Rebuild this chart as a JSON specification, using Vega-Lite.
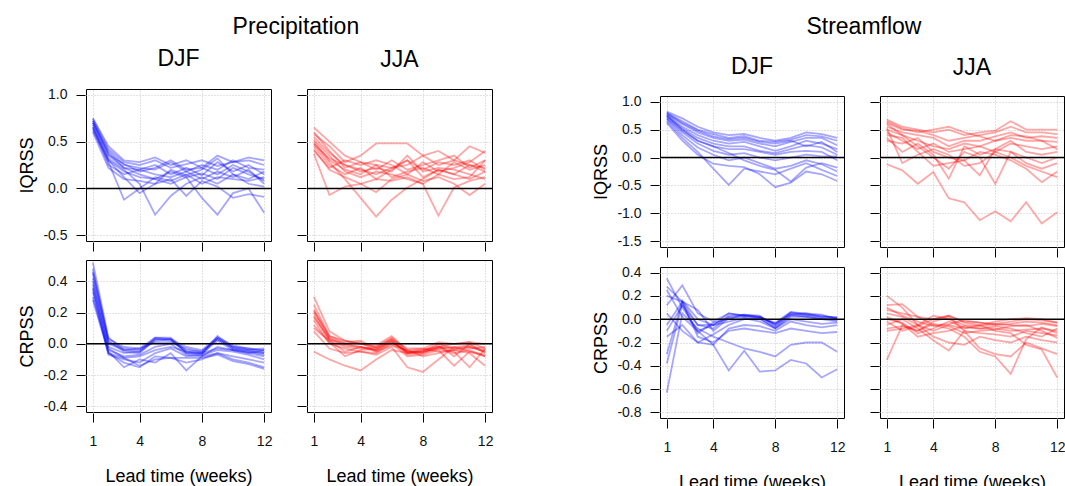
{
"$schema":"https://vega.github.io/schema/vega-lite/v6.json",
"padding":{"left":18,"top":16,"right":5,"bottom":0},
"background":"white",
"config":{
"view":{"stroke":"#000","strokeWidth":1},
"axis":{"domain":false,"ticks":true,"tickColor":"#000","tickSize":9,"tickWidth":1,"offset":1,"grid":true,"gridColor":"#c4c4c4","gridDash":[1,2],"gridWidth":1,"labelFont":"Liberation Sans","labelFontSize":14,"labelColor":"#111","labelPadding":9,"labelFlush":false,"labelOverlap":false,"titleFont":"Liberation Sans","titleFontSize":18,"titleFontWeight":"normal","titleColor":"#000","titlePadding":6},
"axisX":{"labelPadding":12,"titlePadding":19},
"title":{"font":"Liberation Sans","fontSize":23,"fontWeight":"normal","color":"#000","anchor":"middle"}
},
"datasets":{
"PDI":[
{"k":1,"w":1,"y":0.75},{"k":1,"w":2,"y":0.45},{"k":1,"w":3,"y":0.3},{"k":1,"w":4,"y":0.28},{"k":1,"w":5,"y":0.33},{"k":1,"w":6,"y":0.25},{"k":1,"w":7,"y":0.3},{"k":1,"w":8,"y":0.22},{"k":1,"w":9,"y":0.35},{"k":1,"w":10,"y":0.28},{"k":1,"w":11,"y":0.33},{"k":1,"w":12,"y":0.3},
{"k":2,"w":1,"y":0.72},{"k":2,"w":2,"y":0.4},{"k":2,"w":3,"y":0.25},{"k":2,"w":4,"y":0.22},{"k":2,"w":5,"y":0.2},{"k":2,"w":6,"y":0.28},{"k":2,"w":7,"y":0.18},{"k":2,"w":8,"y":0.25},{"k":2,"w":9,"y":0.2},{"k":2,"w":10,"y":0.3},{"k":2,"w":11,"y":0.22},{"k":2,"w":12,"y":0.2},
{"k":3,"w":1,"y":0.7},{"k":3,"w":2,"y":0.35},{"k":3,"w":3,"y":0.22},{"k":3,"w":4,"y":0.2},{"k":3,"w":5,"y":0.25},{"k":3,"w":6,"y":0.15},{"k":3,"w":7,"y":0.22},{"k":3,"w":8,"y":0.14},{"k":3,"w":9,"y":0.28},{"k":3,"w":10,"y":0.18},{"k":3,"w":11,"y":0.25},{"k":3,"w":12,"y":0.15},
{"k":4,"w":1,"y":0.68},{"k":4,"w":2,"y":0.3},{"k":4,"w":3,"y":0.18},{"k":4,"w":4,"y":0.12},{"k":4,"w":5,"y":0.1},{"k":4,"w":6,"y":0.18},{"k":4,"w":7,"y":0.12},{"k":4,"w":8,"y":0.16},{"k":4,"w":9,"y":0.1},{"k":4,"w":10,"y":0.22},{"k":4,"w":11,"y":0.15},{"k":4,"w":12,"y":0.1},
{"k":5,"w":1,"y":0.65},{"k":5,"w":2,"y":0.25},{"k":5,"w":3,"y":0.15},{"k":5,"w":4,"y":0.2},{"k":5,"w":5,"y":0.15},{"k":5,"w":6,"y":0.12},{"k":5,"w":7,"y":0.18},{"k":5,"w":8,"y":0.1},{"k":5,"w":9,"y":0.18},{"k":5,"w":10,"y":0.12},{"k":5,"w":11,"y":0.2},{"k":5,"w":12,"y":0.05},
{"k":6,"w":1,"y":0.62},{"k":6,"w":2,"y":0.28},{"k":6,"w":3,"y":-0.12},{"k":6,"w":4,"y":0},{"k":6,"w":5,"y":0.12},{"k":6,"w":6,"y":0.08},{"k":6,"w":7,"y":0.15},{"k":6,"w":8,"y":0.05},{"k":6,"w":9,"y":0.12},{"k":6,"w":10,"y":0.1},{"k":6,"w":11,"y":0.08},{"k":6,"w":12,"y":0.12},
{"k":7,"w":1,"y":0.66},{"k":7,"w":2,"y":0.32},{"k":7,"w":3,"y":0.2},{"k":7,"w":4,"y":0.05},{"k":7,"w":5,"y":-0.28},{"k":7,"w":6,"y":-0.08},{"k":7,"w":7,"y":0.05},{"k":7,"w":8,"y":0.12},{"k":7,"w":9,"y":0.05},{"k":7,"w":10,"y":0.15},{"k":7,"w":11,"y":0.1},{"k":7,"w":12,"y":0.18},
{"k":8,"w":1,"y":0.7},{"k":8,"w":2,"y":0.38},{"k":8,"w":3,"y":0.22},{"k":8,"w":4,"y":0.15},{"k":8,"w":5,"y":0.1},{"k":8,"w":6,"y":0.05},{"k":8,"w":7,"y":0.12},{"k":8,"w":8,"y":-0.1},{"k":8,"w":9,"y":-0.28},{"k":8,"w":10,"y":-0.05},{"k":8,"w":11,"y":0},{"k":8,"w":12,"y":-0.26},
{"k":9,"w":1,"y":0.6},{"k":9,"w":2,"y":0.22},{"k":9,"w":3,"y":0.1},{"k":9,"w":4,"y":0.08},{"k":9,"w":5,"y":0.05},{"k":9,"w":6,"y":0.1},{"k":9,"w":7,"y":-0.08},{"k":9,"w":8,"y":0.08},{"k":9,"w":9,"y":0.02},{"k":9,"w":10,"y":-0.1},{"k":9,"w":11,"y":-0.06},{"k":9,"w":12,"y":-0.09},
{"k":10,"w":1,"y":0.74},{"k":10,"w":2,"y":0.42},{"k":10,"w":3,"y":0.28},{"k":10,"w":4,"y":0.25},{"k":10,"w":5,"y":0.3},{"k":10,"w":6,"y":0.22},{"k":10,"w":7,"y":0.26},{"k":10,"w":8,"y":0.3},{"k":10,"w":9,"y":0.24},{"k":10,"w":10,"y":0.28},{"k":10,"w":11,"y":0.3},{"k":10,"w":12,"y":0.25},
{"k":11,"w":1,"y":0.64},{"k":11,"w":2,"y":0.3},{"k":11,"w":3,"y":0.12},{"k":11,"w":4,"y":-0.05},{"k":11,"w":5,"y":0.05},{"k":11,"w":6,"y":0.2},{"k":11,"w":7,"y":0.14},{"k":11,"w":8,"y":0.2},{"k":11,"w":9,"y":0.32},{"k":11,"w":10,"y":0.15},{"k":11,"w":11,"y":0.05},{"k":11,"w":12,"y":0.02},
{"k":12,"w":1,"y":0.72},{"k":12,"w":2,"y":0.36},{"k":12,"w":3,"y":0.26},{"k":12,"w":4,"y":0.18},{"k":12,"w":5,"y":0.22},{"k":12,"w":6,"y":0.3},{"k":12,"w":7,"y":0.2},{"k":12,"w":8,"y":0.22},{"k":12,"w":9,"y":0.15},{"k":12,"w":10,"y":0.25},{"k":12,"w":11,"y":0.18},{"k":12,"w":12,"y":0.08}
],
"PJI":[
{"k":1,"w":1,"y":0.65},{"k":1,"w":2,"y":0.5},{"k":1,"w":3,"y":0.35},{"k":1,"w":4,"y":0.28},{"k":1,"w":5,"y":0.25},{"k":1,"w":6,"y":0.22},{"k":1,"w":7,"y":0.3},{"k":1,"w":8,"y":0.2},{"k":1,"w":9,"y":0.28},{"k":1,"w":10,"y":0.25},{"k":1,"w":11,"y":0.3},{"k":1,"w":12,"y":0.2},
{"k":2,"w":1,"y":0.58},{"k":2,"w":2,"y":0.45},{"k":2,"w":3,"y":0.28},{"k":2,"w":4,"y":0.35},{"k":2,"w":5,"y":0.48},{"k":2,"w":6,"y":0.48},{"k":2,"w":7,"y":0.48},{"k":2,"w":8,"y":0.35},{"k":2,"w":9,"y":0.25},{"k":2,"w":10,"y":0.3},{"k":2,"w":11,"y":0.25},{"k":2,"w":12,"y":0.22},
{"k":3,"w":1,"y":0.55},{"k":3,"w":2,"y":0.38},{"k":3,"w":3,"y":0.25},{"k":3,"w":4,"y":0.2},{"k":3,"w":5,"y":0.15},{"k":3,"w":6,"y":0.22},{"k":3,"w":7,"y":0.25},{"k":3,"w":8,"y":0.35},{"k":3,"w":9,"y":0.4},{"k":3,"w":10,"y":0.3},{"k":3,"w":11,"y":0.45},{"k":3,"w":12,"y":0.38},
{"k":4,"w":1,"y":0.5},{"k":4,"w":2,"y":0.3},{"k":4,"w":3,"y":0.2},{"k":4,"w":4,"y":0.15},{"k":4,"w":5,"y":0.25},{"k":4,"w":6,"y":0.12},{"k":4,"w":7,"y":0.18},{"k":4,"w":8,"y":0.22},{"k":4,"w":9,"y":0.15},{"k":4,"w":10,"y":0.28},{"k":4,"w":11,"y":0.2},{"k":4,"w":12,"y":0.25},
{"k":5,"w":1,"y":0.45},{"k":5,"w":2,"y":0.25},{"k":5,"w":3,"y":0.15},{"k":5,"w":4,"y":0.22},{"k":5,"w":5,"y":0.1},{"k":5,"w":6,"y":0.2},{"k":5,"w":7,"y":0.3},{"k":5,"w":8,"y":0.12},{"k":5,"w":9,"y":0.2},{"k":5,"w":10,"y":0.15},{"k":5,"w":11,"y":0.25},{"k":5,"w":12,"y":0.18},
{"k":6,"w":1,"y":0.37},{"k":6,"w":2,"y":-0.07},{"k":6,"w":3,"y":0.02},{"k":6,"w":4,"y":0.05},{"k":6,"w":5,"y":0.1},{"k":6,"w":6,"y":0.08},{"k":6,"w":7,"y":0.12},{"k":6,"w":8,"y":0.05},{"k":6,"w":9,"y":0.15},{"k":6,"w":10,"y":0.1},{"k":6,"w":11,"y":0.12},{"k":6,"w":12,"y":0.3},
{"k":7,"w":1,"y":0.48},{"k":7,"w":2,"y":0.28},{"k":7,"w":3,"y":0.1},{"k":7,"w":4,"y":-0.1},{"k":7,"w":5,"y":-0.3},{"k":7,"w":6,"y":-0.12},{"k":7,"w":7,"y":0.01},{"k":7,"w":8,"y":0.1},{"k":7,"w":9,"y":0.2},{"k":7,"w":10,"y":0.15},{"k":7,"w":11,"y":0.1},{"k":7,"w":12,"y":0.18},
{"k":8,"w":1,"y":0.52},{"k":8,"w":2,"y":0.35},{"k":8,"w":3,"y":0.18},{"k":8,"w":4,"y":0.12},{"k":8,"w":5,"y":0.18},{"k":8,"w":6,"y":0.15},{"k":8,"w":7,"y":0.1},{"k":8,"w":8,"y":0.05},{"k":8,"w":9,"y":-0.29},{"k":8,"w":10,"y":0.01},{"k":8,"w":11,"y":0.08},{"k":8,"w":12,"y":0.12},
{"k":9,"w":1,"y":0.42},{"k":9,"w":2,"y":0.2},{"k":9,"w":3,"y":0.12},{"k":9,"w":4,"y":0.05},{"k":9,"w":5,"y":-0.04},{"k":9,"w":6,"y":0.1},{"k":9,"w":7,"y":0.15},{"k":9,"w":8,"y":0.08},{"k":9,"w":9,"y":0.12},{"k":9,"w":10,"y":0.05},{"k":9,"w":11,"y":-0.07},{"k":9,"w":12,"y":0.05},
{"k":10,"w":1,"y":0.6},{"k":10,"w":2,"y":0.4},{"k":10,"w":3,"y":0.22},{"k":10,"w":4,"y":0.28},{"k":10,"w":5,"y":0.2},{"k":10,"w":6,"y":0.3},{"k":10,"w":7,"y":0.2},{"k":10,"w":8,"y":0.25},{"k":10,"w":9,"y":0.3},{"k":10,"w":10,"y":0.35},{"k":10,"w":11,"y":0.22},{"k":10,"w":12,"y":0.3},
{"k":11,"w":1,"y":0.47},{"k":11,"w":2,"y":0.32},{"k":11,"w":3,"y":0.25},{"k":11,"w":4,"y":0.18},{"k":11,"w":5,"y":0.22},{"k":11,"w":6,"y":0.18},{"k":11,"w":7,"y":0.35},{"k":11,"w":8,"y":0.18},{"k":11,"w":9,"y":0.22},{"k":11,"w":10,"y":0.2},{"k":11,"w":11,"y":0.15},{"k":11,"w":12,"y":0.1},
{"k":12,"w":1,"y":0.4},{"k":12,"w":2,"y":0.22},{"k":12,"w":3,"y":0.3},{"k":12,"w":4,"y":0.25},{"k":12,"w":5,"y":0.3},{"k":12,"w":6,"y":0.25},{"k":12,"w":7,"y":0.15},{"k":12,"w":8,"y":0.28},{"k":12,"w":9,"y":0.18},{"k":12,"w":10,"y":0.22},{"k":12,"w":11,"y":0.28},{"k":12,"w":12,"y":0.4}
],
"PDC":[
{"k":1,"w":1,"y":0.52},{"k":1,"w":2,"y":0.04},{"k":1,"w":3,"y":-0.04},{"k":1,"w":4,"y":-0.05},{"k":1,"w":5,"y":0.04},{"k":1,"w":6,"y":0.04},{"k":1,"w":7,"y":-0.05},{"k":1,"w":8,"y":-0.06},{"k":1,"w":9,"y":0.05},{"k":1,"w":10,"y":-0.02},{"k":1,"w":11,"y":-0.04},{"k":1,"w":12,"y":-0.06},
{"k":2,"w":1,"y":0.48},{"k":2,"w":2,"y":0.02},{"k":2,"w":3,"y":-0.05},{"k":2,"w":4,"y":-0.06},{"k":2,"w":5,"y":0.03},{"k":2,"w":6,"y":0.03},{"k":2,"w":7,"y":-0.06},{"k":2,"w":8,"y":-0.07},{"k":2,"w":9,"y":0.04},{"k":2,"w":10,"y":-0.03},{"k":2,"w":11,"y":-0.05},{"k":2,"w":12,"y":-0.07},
{"k":3,"w":1,"y":0.45},{"k":3,"w":2,"y":0.01},{"k":3,"w":3,"y":-0.03},{"k":3,"w":4,"y":-0.04},{"k":3,"w":5,"y":0.03},{"k":3,"w":6,"y":0.02},{"k":3,"w":7,"y":-0.04},{"k":3,"w":8,"y":-0.05},{"k":3,"w":9,"y":0.03},{"k":3,"w":10,"y":-0.02},{"k":3,"w":11,"y":-0.03},{"k":3,"w":12,"y":-0.05},
{"k":4,"w":1,"y":0.42},{"k":4,"w":2,"y":-0.02},{"k":4,"w":3,"y":-0.06},{"k":4,"w":4,"y":-0.05},{"k":4,"w":5,"y":0.02},{"k":4,"w":6,"y":0.03},{"k":4,"w":7,"y":-0.06},{"k":4,"w":8,"y":-0.06},{"k":4,"w":9,"y":0.02},{"k":4,"w":10,"y":-0.04},{"k":4,"w":11,"y":-0.06},{"k":4,"w":12,"y":-0.04},
{"k":5,"w":1,"y":0.4},{"k":5,"w":2,"y":0},{"k":5,"w":3,"y":-0.04},{"k":5,"w":4,"y":-0.03},{"k":5,"w":5,"y":0.01},{"k":5,"w":6,"y":0.01},{"k":5,"w":7,"y":-0.03},{"k":5,"w":8,"y":-0.05},{"k":5,"w":9,"y":0.03},{"k":5,"w":10,"y":-0.03},{"k":5,"w":11,"y":-0.04},{"k":5,"w":12,"y":-0.03},
{"k":6,"w":1,"y":0.38},{"k":6,"w":2,"y":-0.04},{"k":6,"w":3,"y":-0.08},{"k":6,"w":4,"y":-0.07},{"k":6,"w":5,"y":-0.02},{"k":6,"w":6,"y":0},{"k":6,"w":7,"y":-0.07},{"k":6,"w":8,"y":-0.08},{"k":6,"w":9,"y":-0.02},{"k":6,"w":10,"y":-0.04},{"k":6,"w":11,"y":-0.06},{"k":6,"w":12,"y":-0.08},
{"k":7,"w":1,"y":0.35},{"k":7,"w":2,"y":-0.07},{"k":7,"w":3,"y":-0.1},{"k":7,"w":4,"y":-0.12},{"k":7,"w":5,"y":-0.06},{"k":7,"w":6,"y":-0.03},{"k":7,"w":7,"y":-0.08},{"k":7,"w":8,"y":-0.07},{"k":7,"w":9,"y":-0.04},{"k":7,"w":10,"y":-0.05},{"k":7,"w":11,"y":-0.07},{"k":7,"w":12,"y":-0.1},
{"k":8,"w":1,"y":0.33},{"k":8,"w":2,"y":-0.06},{"k":8,"w":3,"y":-0.12},{"k":8,"w":4,"y":-0.15},{"k":8,"w":5,"y":-0.08},{"k":8,"w":6,"y":-0.09},{"k":8,"w":7,"y":-0.12},{"k":8,"w":8,"y":-0.1},{"k":8,"w":9,"y":-0.06},{"k":8,"w":10,"y":-0.08},{"k":8,"w":11,"y":-0.1},{"k":8,"w":12,"y":-0.12},
{"k":9,"w":1,"y":0.3},{"k":9,"w":2,"y":-0.05},{"k":9,"w":3,"y":-0.15},{"k":9,"w":4,"y":-0.1},{"k":9,"w":5,"y":-0.12},{"k":9,"w":6,"y":-0.06},{"k":9,"w":7,"y":-0.17},{"k":9,"w":8,"y":-0.08},{"k":9,"w":9,"y":-0.06},{"k":9,"w":10,"y":-0.1},{"k":9,"w":11,"y":-0.12},{"k":9,"w":12,"y":-0.15},
{"k":10,"w":1,"y":0.36},{"k":10,"w":2,"y":-0.03},{"k":10,"w":3,"y":-0.09},{"k":10,"w":4,"y":-0.14},{"k":10,"w":5,"y":-0.1},{"k":10,"w":6,"y":-0.09},{"k":10,"w":7,"y":-0.09},{"k":10,"w":8,"y":-0.09},{"k":10,"w":9,"y":-0.07},{"k":10,"w":10,"y":-0.11},{"k":10,"w":11,"y":-0.13},{"k":10,"w":12,"y":-0.16},
{"k":11,"w":1,"y":0.46},{"k":11,"w":2,"y":0.03},{"k":11,"w":3,"y":-0.02},{"k":11,"w":4,"y":-0.03},{"k":11,"w":5,"y":0.04},{"k":11,"w":6,"y":0.03},{"k":11,"w":7,"y":-0.02},{"k":11,"w":8,"y":-0.04},{"k":11,"w":9,"y":0.04},{"k":11,"w":10,"y":-0.01},{"k":11,"w":11,"y":-0.03},{"k":11,"w":12,"y":-0.04},
{"k":12,"w":1,"y":0.28},{"k":12,"w":2,"y":-0.06},{"k":12,"w":3,"y":-0.09},{"k":12,"w":4,"y":-0.08},{"k":12,"w":5,"y":-0.04},{"k":12,"w":6,"y":-0.02},{"k":12,"w":7,"y":-0.05},{"k":12,"w":8,"y":-0.06},{"k":12,"w":9,"y":-0.03},{"k":12,"w":10,"y":-0.04},{"k":12,"w":11,"y":-0.05},{"k":12,"w":12,"y":-0.06}
],
"PJC":[
{"k":1,"w":1,"y":0.3},{"k":1,"w":2,"y":0.08},{"k":1,"w":3,"y":0.02},{"k":1,"w":4,"y":0},{"k":1,"w":5,"y":-0.02},{"k":1,"w":6,"y":0.04},{"k":1,"w":7,"y":-0.05},{"k":1,"w":8,"y":-0.05},{"k":1,"w":9,"y":0},{"k":1,"w":10,"y":-0.03},{"k":1,"w":11,"y":-0.02},{"k":1,"w":12,"y":-0.05},
{"k":2,"w":1,"y":0.25},{"k":2,"w":2,"y":0.05},{"k":2,"w":3,"y":0.01},{"k":2,"w":4,"y":0.02},{"k":2,"w":5,"y":-0.03},{"k":2,"w":6,"y":0.03},{"k":2,"w":7,"y":-0.06},{"k":2,"w":8,"y":-0.04},{"k":2,"w":9,"y":-0.02},{"k":2,"w":10,"y":0},{"k":2,"w":11,"y":0.01},{"k":2,"w":12,"y":-0.03},
{"k":3,"w":1,"y":0.22},{"k":3,"w":2,"y":0.04},{"k":3,"w":3,"y":0},{"k":3,"w":4,"y":-0.02},{"k":3,"w":5,"y":-0.04},{"k":3,"w":6,"y":0.02},{"k":3,"w":7,"y":-0.07},{"k":3,"w":8,"y":-0.06},{"k":3,"w":9,"y":-0.03},{"k":3,"w":10,"y":-0.02},{"k":3,"w":11,"y":-0.01},{"k":3,"w":12,"y":-0.04},
{"k":4,"w":1,"y":0.2},{"k":4,"w":2,"y":0.03},{"k":4,"w":3,"y":0},{"k":4,"w":4,"y":0.01},{"k":4,"w":5,"y":-0.05},{"k":4,"w":6,"y":0.01},{"k":4,"w":7,"y":-0.05},{"k":4,"w":8,"y":-0.04},{"k":4,"w":9,"y":-0.01},{"k":4,"w":10,"y":-0.08},{"k":4,"w":11,"y":0},{"k":4,"w":12,"y":-0.06},
{"k":5,"w":1,"y":0.18},{"k":5,"w":2,"y":0.02},{"k":5,"w":3,"y":-0.02},{"k":5,"w":4,"y":-0.03},{"k":5,"w":5,"y":-0.02},{"k":5,"w":6,"y":0.03},{"k":5,"w":7,"y":-0.03},{"k":5,"w":8,"y":-0.03},{"k":5,"w":9,"y":-0.05},{"k":5,"w":10,"y":-0.04},{"k":5,"w":11,"y":-0.03},{"k":5,"w":12,"y":-0.02},
{"k":6,"w":1,"y":0.15},{"k":6,"w":2,"y":0},{"k":6,"w":3,"y":-0.03},{"k":6,"w":4,"y":-0.05},{"k":6,"w":5,"y":-0.06},{"k":6,"w":6,"y":0},{"k":6,"w":7,"y":-0.08},{"k":6,"w":8,"y":-0.07},{"k":6,"w":9,"y":-0.04},{"k":6,"w":10,"y":-0.14},{"k":6,"w":11,"y":-0.05},{"k":6,"w":12,"y":-0.08},
{"k":7,"w":1,"y":0.12},{"k":7,"w":2,"y":0.01},{"k":7,"w":3,"y":-0.08},{"k":7,"w":4,"y":-0.04},{"k":7,"w":5,"y":-0.03},{"k":7,"w":6,"y":0.02},{"k":7,"w":7,"y":-0.06},{"k":7,"w":8,"y":-0.05},{"k":7,"w":9,"y":-0.02},{"k":7,"w":10,"y":-0.05},{"k":7,"w":11,"y":-0.15},{"k":7,"w":12,"y":-0.03},
{"k":8,"w":1,"y":0.1},{"k":8,"w":2,"y":0.02},{"k":8,"w":3,"y":-0.05},{"k":8,"w":4,"y":-0.02},{"k":8,"w":5,"y":-0.05},{"k":8,"w":6,"y":-0.01},{"k":8,"w":7,"y":-0.04},{"k":8,"w":8,"y":-0.08},{"k":8,"w":9,"y":-0.06},{"k":8,"w":10,"y":-0.04},{"k":8,"w":11,"y":-0.06},{"k":8,"w":12,"y":-0.14},
{"k":9,"w":1,"y":-0.05},{"k":9,"w":2,"y":-0.1},{"k":9,"w":3,"y":-0.14},{"k":9,"w":4,"y":-0.17},{"k":9,"w":5,"y":-0.1},{"k":9,"w":6,"y":-0.04},{"k":9,"w":7,"y":-0.06},{"k":9,"w":8,"y":-0.05},{"k":9,"w":9,"y":-0.03},{"k":9,"w":10,"y":-0.06},{"k":9,"w":11,"y":-0.04},{"k":9,"w":12,"y":-0.08},
{"k":10,"w":1,"y":0.08},{"k":10,"w":2,"y":-0.03},{"k":10,"w":3,"y":-0.06},{"k":10,"w":4,"y":-0.05},{"k":10,"w":5,"y":-0.07},{"k":10,"w":6,"y":-0.02},{"k":10,"w":7,"y":-0.15},{"k":10,"w":8,"y":-0.18},{"k":10,"w":9,"y":-0.1},{"k":10,"w":10,"y":-0.02},{"k":10,"w":11,"y":-0.05},{"k":10,"w":12,"y":-0.07},
{"k":11,"w":1,"y":0.21},{"k":11,"w":2,"y":0.05},{"k":11,"w":3,"y":0.02},{"k":11,"w":4,"y":0},{"k":11,"w":5,"y":-0.01},{"k":11,"w":6,"y":0.05},{"k":11,"w":7,"y":-0.04},{"k":11,"w":8,"y":-0.03},{"k":11,"w":9,"y":0.01},{"k":11,"w":10,"y":0},{"k":11,"w":11,"y":0.01},{"k":11,"w":12,"y":0},
{"k":12,"w":1,"y":0.17},{"k":12,"w":2,"y":0.03},{"k":12,"w":3,"y":-0.01},{"k":12,"w":4,"y":-0.02},{"k":12,"w":5,"y":-0.04},{"k":12,"w":6,"y":0.01},{"k":12,"w":7,"y":-0.05},{"k":12,"w":8,"y":-0.06},{"k":12,"w":9,"y":-0.02},{"k":12,"w":10,"y":-0.03},{"k":12,"w":11,"y":-0.02},{"k":12,"w":12,"y":-0.05}
],
"SDI":[
{"k":1,"w":1,"y":0.82},{"k":1,"w":2,"y":0.7},{"k":1,"w":3,"y":0.55},{"k":1,"w":4,"y":0.45},{"k":1,"w":5,"y":0.4},{"k":1,"w":6,"y":0.42},{"k":1,"w":7,"y":0.35},{"k":1,"w":8,"y":0.3},{"k":1,"w":9,"y":0.35},{"k":1,"w":10,"y":0.45},{"k":1,"w":11,"y":0.42},{"k":1,"w":12,"y":0.35},
{"k":2,"w":1,"y":0.8},{"k":2,"w":2,"y":0.65},{"k":2,"w":3,"y":0.5},{"k":2,"w":4,"y":0.42},{"k":2,"w":5,"y":0.35},{"k":2,"w":6,"y":0.38},{"k":2,"w":7,"y":0.3},{"k":2,"w":8,"y":0.28},{"k":2,"w":9,"y":0.32},{"k":2,"w":10,"y":0.4},{"k":2,"w":11,"y":0.38},{"k":2,"w":12,"y":0.3},
{"k":3,"w":1,"y":0.78},{"k":3,"w":2,"y":0.6},{"k":3,"w":3,"y":0.45},{"k":3,"w":4,"y":0.35},{"k":3,"w":5,"y":0.3},{"k":3,"w":6,"y":0.32},{"k":3,"w":7,"y":0.25},{"k":3,"w":8,"y":0.2},{"k":3,"w":9,"y":0.28},{"k":3,"w":10,"y":0.35},{"k":3,"w":11,"y":0.35},{"k":3,"w":12,"y":0.22},
{"k":4,"w":1,"y":0.76},{"k":4,"w":2,"y":0.55},{"k":4,"w":3,"y":0.4},{"k":4,"w":4,"y":0.3},{"k":4,"w":5,"y":0.25},{"k":4,"w":6,"y":0.28},{"k":4,"w":7,"y":0.2},{"k":4,"w":8,"y":0.12},{"k":4,"w":9,"y":0.2},{"k":4,"w":10,"y":0.3},{"k":4,"w":11,"y":0.25},{"k":4,"w":12,"y":0.15},
{"k":5,"w":1,"y":0.74},{"k":5,"w":2,"y":0.52},{"k":5,"w":3,"y":0.35},{"k":5,"w":4,"y":0.25},{"k":5,"w":5,"y":0.2},{"k":5,"w":6,"y":0.2},{"k":5,"w":7,"y":0.12},{"k":5,"w":8,"y":0.08},{"k":5,"w":9,"y":0.15},{"k":5,"w":10,"y":0.22},{"k":5,"w":11,"y":0.18},{"k":5,"w":12,"y":0.05},
{"k":6,"w":1,"y":0.72},{"k":6,"w":2,"y":0.48},{"k":6,"w":3,"y":0.3},{"k":6,"w":4,"y":0.2},{"k":6,"w":5,"y":0.15},{"k":6,"w":6,"y":0.15},{"k":6,"w":7,"y":0.1},{"k":6,"w":8,"y":0.05},{"k":6,"w":9,"y":0.1},{"k":6,"w":10,"y":0.12},{"k":6,"w":11,"y":0.1},{"k":6,"w":12,"y":-0.05},
{"k":7,"w":1,"y":0.7},{"k":7,"w":2,"y":0.45},{"k":7,"w":3,"y":0.25},{"k":7,"w":4,"y":0.12},{"k":7,"w":5,"y":0.05},{"k":7,"w":6,"y":0.08},{"k":7,"w":7,"y":0},{"k":7,"w":8,"y":-0.05},{"k":7,"w":9,"y":0},{"k":7,"w":10,"y":0.05},{"k":7,"w":11,"y":0.02},{"k":7,"w":12,"y":0.02},
{"k":8,"w":1,"y":0.68},{"k":8,"w":2,"y":0.4},{"k":8,"w":3,"y":0.18},{"k":8,"w":4,"y":0.05},{"k":8,"w":5,"y":-0.05},{"k":8,"w":6,"y":0},{"k":8,"w":7,"y":-0.1},{"k":8,"w":8,"y":-0.2},{"k":8,"w":9,"y":-0.15},{"k":8,"w":10,"y":-0.05},{"k":8,"w":11,"y":-0.12},{"k":8,"w":12,"y":-0.25},
{"k":9,"w":1,"y":0.65},{"k":9,"w":2,"y":0.35},{"k":9,"w":3,"y":0.1},{"k":9,"w":4,"y":-0.2},{"k":9,"w":5,"y":-0.49},{"k":9,"w":6,"y":-0.2},{"k":9,"w":7,"y":-0.25},{"k":9,"w":8,"y":-0.3},{"k":9,"w":9,"y":-0.2},{"k":9,"w":10,"y":-0.1},{"k":9,"w":11,"y":-0.22},{"k":9,"w":12,"y":-0.33},
{"k":10,"w":1,"y":0.62},{"k":10,"w":2,"y":0.3},{"k":10,"w":3,"y":0.05},{"k":10,"w":4,"y":-0.11},{"k":10,"w":5,"y":-0.15},{"k":10,"w":6,"y":-0.17},{"k":10,"w":7,"y":-0.3},{"k":10,"w":8,"y":-0.53},{"k":10,"w":9,"y":-0.45},{"k":10,"w":10,"y":-0.25},{"k":10,"w":11,"y":-0.3},{"k":10,"w":12,"y":-0.42},
{"k":11,"w":1,"y":0.75},{"k":11,"w":2,"y":0.5},{"k":11,"w":3,"y":0.3},{"k":11,"w":4,"y":0.2},{"k":11,"w":5,"y":0.08},{"k":11,"w":6,"y":-0.05},{"k":11,"w":7,"y":-0.15},{"k":11,"w":8,"y":-0.22},{"k":11,"w":9,"y":-0.43},{"k":11,"w":10,"y":-0.18},{"k":11,"w":11,"y":-0.1},{"k":11,"w":12,"y":-0.18},
{"k":12,"w":1,"y":0.79},{"k":12,"w":2,"y":0.62},{"k":12,"w":3,"y":0.48},{"k":12,"w":4,"y":0.38},{"k":12,"w":5,"y":0.33},{"k":12,"w":6,"y":0.35},{"k":12,"w":7,"y":0.28},{"k":12,"w":8,"y":0.25},{"k":12,"w":9,"y":0.3},{"k":12,"w":10,"y":0.2},{"k":12,"w":11,"y":0.28},{"k":12,"w":12,"y":0.1}
],
"SJI":[
{"k":1,"w":1,"y":0.68},{"k":1,"w":2,"y":0.55},{"k":1,"w":3,"y":0.5},{"k":1,"w":4,"y":0.45},{"k":1,"w":5,"y":0.5},{"k":1,"w":6,"y":0.4},{"k":1,"w":7,"y":0.45},{"k":1,"w":8,"y":0.48},{"k":1,"w":9,"y":0.65},{"k":1,"w":10,"y":0.5},{"k":1,"w":11,"y":0.5},{"k":1,"w":12,"y":0.5},
{"k":2,"w":1,"y":0.62},{"k":2,"w":2,"y":0.5},{"k":2,"w":3,"y":0.48},{"k":2,"w":4,"y":0.4},{"k":2,"w":5,"y":0.3},{"k":2,"w":6,"y":0.35},{"k":2,"w":7,"y":0.4},{"k":2,"w":8,"y":0.45},{"k":2,"w":9,"y":0.55},{"k":2,"w":10,"y":0.45},{"k":2,"w":11,"y":0.45},{"k":2,"w":12,"y":0.42},
{"k":3,"w":1,"y":0.55},{"k":3,"w":2,"y":0.45},{"k":3,"w":3,"y":0.4},{"k":3,"w":4,"y":0.35},{"k":3,"w":5,"y":0.2},{"k":3,"w":6,"y":0.3},{"k":3,"w":7,"y":0.3},{"k":3,"w":8,"y":0.38},{"k":3,"w":9,"y":0.45},{"k":3,"w":10,"y":0.35},{"k":3,"w":11,"y":0.38},{"k":3,"w":12,"y":0.35},
{"k":4,"w":1,"y":0.5},{"k":4,"w":2,"y":0.4},{"k":4,"w":3,"y":0.3},{"k":4,"w":4,"y":0.2},{"k":4,"w":5,"y":0.15},{"k":4,"w":6,"y":0.25},{"k":4,"w":7,"y":0.2},{"k":4,"w":8,"y":0.3},{"k":4,"w":9,"y":0.35},{"k":4,"w":10,"y":0.3},{"k":4,"w":11,"y":0.3},{"k":4,"w":12,"y":0.28},
{"k":5,"w":1,"y":0.45},{"k":5,"w":2,"y":0.3},{"k":5,"w":3,"y":0.15},{"k":5,"w":4,"y":0.25},{"k":5,"w":5,"y":0.1},{"k":5,"w":6,"y":0.15},{"k":5,"w":7,"y":0.2},{"k":5,"w":8,"y":0.1},{"k":5,"w":9,"y":0.25},{"k":5,"w":10,"y":0.2},{"k":5,"w":11,"y":0.15},{"k":5,"w":12,"y":0.2},
{"k":6,"w":1,"y":0.35},{"k":6,"w":2,"y":0.1},{"k":6,"w":3,"y":0.25},{"k":6,"w":4,"y":0.05},{"k":6,"w":5,"y":-0.38},{"k":6,"w":6,"y":0.2},{"k":6,"w":7,"y":0.05},{"k":6,"w":8,"y":0.15},{"k":6,"w":9,"y":0.3},{"k":6,"w":10,"y":0.1},{"k":6,"w":11,"y":0.05},{"k":6,"w":12,"y":0.1},
{"k":7,"w":1,"y":0.3},{"k":7,"w":2,"y":0.25},{"k":7,"w":3,"y":0.35},{"k":7,"w":4,"y":0.1},{"k":7,"w":5,"y":0},{"k":7,"w":6,"y":-0.05},{"k":7,"w":7,"y":-0.32},{"k":7,"w":8,"y":0.15},{"k":7,"w":9,"y":0.1},{"k":7,"w":10,"y":0},{"k":7,"w":11,"y":-0.1},{"k":7,"w":12,"y":0},
{"k":8,"w":1,"y":0.6},{"k":8,"w":2,"y":0.4},{"k":8,"w":3,"y":0.2},{"k":8,"w":4,"y":0},{"k":8,"w":5,"y":-0.2},{"k":8,"w":6,"y":0.1},{"k":8,"w":7,"y":0},{"k":8,"w":8,"y":-0.47},{"k":8,"w":9,"y":0.1},{"k":8,"w":10,"y":-0.1},{"k":8,"w":11,"y":-0.2},{"k":8,"w":12,"y":-0.1},
{"k":9,"w":1,"y":0.4},{"k":9,"w":2,"y":0.35},{"k":9,"w":3,"y":0.1},{"k":9,"w":4,"y":-0.15},{"k":9,"w":5,"y":-0.1},{"k":9,"w":6,"y":-0.05},{"k":9,"w":7,"y":0.1},{"k":9,"w":8,"y":0.05},{"k":9,"w":9,"y":-0.05},{"k":9,"w":10,"y":-0.2},{"k":9,"w":11,"y":-0.44},{"k":9,"w":12,"y":-0.25},
{"k":10,"w":1,"y":0.52},{"k":10,"w":2,"y":-0.1},{"k":10,"w":3,"y":0.05},{"k":10,"w":4,"y":0.15},{"k":10,"w":5,"y":0.05},{"k":10,"w":6,"y":-0.15},{"k":10,"w":7,"y":-0.1},{"k":10,"w":8,"y":0.1},{"k":10,"w":9,"y":0},{"k":10,"w":10,"y":-0.15},{"k":10,"w":11,"y":-0.25},{"k":10,"w":12,"y":-0.35},
{"k":11,"w":1,"y":-0.12},{"k":11,"w":2,"y":-0.23},{"k":11,"w":3,"y":-0.47},{"k":11,"w":4,"y":-0.26},{"k":11,"w":5,"y":-0.73},{"k":11,"w":6,"y":-0.8},{"k":11,"w":7,"y":-1.12},{"k":11,"w":8,"y":-0.96},{"k":11,"w":9,"y":-1.14},{"k":11,"w":10,"y":-0.8},{"k":11,"w":11,"y":-1.18},{"k":11,"w":12,"y":-0.98},
{"k":12,"w":1,"y":0.65},{"k":12,"w":2,"y":0.52},{"k":12,"w":3,"y":0.45},{"k":12,"w":4,"y":0.5},{"k":12,"w":5,"y":0.55},{"k":12,"w":6,"y":0.45},{"k":12,"w":7,"y":0.38},{"k":12,"w":8,"y":0.3},{"k":12,"w":9,"y":0.4},{"k":12,"w":10,"y":0.38},{"k":12,"w":11,"y":0.3},{"k":12,"w":12,"y":0.15}
],
"SDC":[
{"k":1,"w":1,"y":0.35},{"k":1,"w":2,"y":0.1},{"k":1,"w":3,"y":-0.1},{"k":1,"w":4,"y":-0.22},{"k":1,"w":5,"y":-0.44},{"k":1,"w":6,"y":-0.27},{"k":1,"w":7,"y":-0.45},{"k":1,"w":8,"y":-0.44},{"k":1,"w":9,"y":-0.35},{"k":1,"w":10,"y":-0.38},{"k":1,"w":11,"y":-0.5},{"k":1,"w":12,"y":-0.43},
{"k":2,"w":1,"y":-0.63},{"k":2,"w":2,"y":0.05},{"k":2,"w":3,"y":-0.08},{"k":2,"w":4,"y":-0.15},{"k":2,"w":5,"y":-0.2},{"k":2,"w":6,"y":-0.25},{"k":2,"w":7,"y":-0.28},{"k":2,"w":8,"y":-0.32},{"k":2,"w":9,"y":-0.22},{"k":2,"w":10,"y":-0.2},{"k":2,"w":11,"y":-0.2},{"k":2,"w":12,"y":-0.28},
{"k":3,"w":1,"y":0.28},{"k":3,"w":2,"y":0.15},{"k":3,"w":3,"y":-0.15},{"k":3,"w":4,"y":-0.2},{"k":3,"w":5,"y":-0.1},{"k":3,"w":6,"y":-0.08},{"k":3,"w":7,"y":-0.1},{"k":3,"w":8,"y":-0.12},{"k":3,"w":9,"y":-0.08},{"k":3,"w":10,"y":-0.1},{"k":3,"w":11,"y":-0.12},{"k":3,"w":12,"y":-0.11},
{"k":4,"w":1,"y":-0.3},{"k":4,"w":2,"y":0.16},{"k":4,"w":3,"y":0},{"k":4,"w":4,"y":-0.05},{"k":4,"w":5,"y":0.02},{"k":4,"w":6,"y":0.03},{"k":4,"w":7,"y":0.02},{"k":4,"w":8,"y":-0.05},{"k":4,"w":9,"y":0.05},{"k":4,"w":10,"y":0.04},{"k":4,"w":11,"y":0.03},{"k":4,"w":12,"y":0.01},
{"k":5,"w":1,"y":0.2},{"k":5,"w":2,"y":0.15},{"k":5,"w":3,"y":-0.05},{"k":5,"w":4,"y":-0.08},{"k":5,"w":5,"y":0.03},{"k":5,"w":6,"y":0.04},{"k":5,"w":7,"y":0.02},{"k":5,"w":8,"y":-0.04},{"k":5,"w":9,"y":0.04},{"k":5,"w":10,"y":0.05},{"k":5,"w":11,"y":0.02},{"k":5,"w":12,"y":0.02},
{"k":6,"w":1,"y":0.12},{"k":6,"w":2,"y":0.29},{"k":6,"w":3,"y":0.05},{"k":6,"w":4,"y":-0.02},{"k":6,"w":5,"y":0.05},{"k":6,"w":6,"y":0.03},{"k":6,"w":7,"y":0.01},{"k":6,"w":8,"y":-0.03},{"k":6,"w":9,"y":0.06},{"k":6,"w":10,"y":0.05},{"k":6,"w":11,"y":0.04},{"k":6,"w":12,"y":0},
{"k":7,"w":1,"y":-0.05},{"k":7,"w":2,"y":0.15},{"k":7,"w":3,"y":0.08},{"k":7,"w":4,"y":-0.1},{"k":7,"w":5,"y":0.01},{"k":7,"w":6,"y":0.02},{"k":7,"w":7,"y":0},{"k":7,"w":8,"y":-0.07},{"k":7,"w":9,"y":0.03},{"k":7,"w":10,"y":0.03},{"k":7,"w":11,"y":0.01},{"k":7,"w":12,"y":-0.01},
{"k":8,"w":1,"y":-0.15},{"k":8,"w":2,"y":-0.05},{"k":8,"w":3,"y":-0.2},{"k":8,"w":4,"y":-0.13},{"k":8,"w":5,"y":-0.05},{"k":8,"w":6,"y":0},{"k":8,"w":7,"y":0.01},{"k":8,"w":8,"y":-0.08},{"k":8,"w":9,"y":0.02},{"k":8,"w":10,"y":0.02},{"k":8,"w":11,"y":0},{"k":8,"w":12,"y":-0.02},
{"k":9,"w":1,"y":-0.38},{"k":9,"w":2,"y":0.13},{"k":9,"w":3,"y":-0.12},{"k":9,"w":4,"y":-0.03},{"k":9,"w":5,"y":0},{"k":9,"w":6,"y":0.04},{"k":9,"w":7,"y":0.03},{"k":9,"w":8,"y":-0.06},{"k":9,"w":9,"y":0.04},{"k":9,"w":10,"y":0.02},{"k":9,"w":11,"y":0},{"k":9,"w":12,"y":0},
{"k":10,"w":1,"y":0.05},{"k":10,"w":2,"y":-0.1},{"k":10,"w":3,"y":-0.2},{"k":10,"w":4,"y":-0.22},{"k":10,"w":5,"y":-0.08},{"k":10,"w":6,"y":-0.05},{"k":10,"w":7,"y":-0.06},{"k":10,"w":8,"y":-0.1},{"k":10,"w":9,"y":-0.02},{"k":10,"w":10,"y":-0.05},{"k":10,"w":11,"y":-0.07},{"k":10,"w":12,"y":-0.05},
{"k":11,"w":1,"y":0.25},{"k":11,"w":2,"y":0.02},{"k":11,"w":3,"y":-0.1},{"k":11,"w":4,"y":-0.05},{"k":11,"w":5,"y":-0.02},{"k":11,"w":6,"y":0.01},{"k":11,"w":7,"y":-0.02},{"k":11,"w":8,"y":-0.08},{"k":11,"w":9,"y":0},{"k":11,"w":10,"y":-0.02},{"k":11,"w":11,"y":-0.04},{"k":11,"w":12,"y":-0.03},
{"k":12,"w":1,"y":-0.1},{"k":12,"w":2,"y":0.12},{"k":12,"w":3,"y":-0.05},{"k":12,"w":4,"y":-0.05},{"k":12,"w":5,"y":0.05},{"k":12,"w":6,"y":0.03},{"k":12,"w":7,"y":0.02},{"k":12,"w":8,"y":-0.04},{"k":12,"w":9,"y":0.06},{"k":12,"w":10,"y":0.04},{"k":12,"w":11,"y":0.02},{"k":12,"w":12,"y":0.01}
],
"SJC":[
{"k":1,"w":1,"y":0.2},{"k":1,"w":2,"y":0.1},{"k":1,"w":3,"y":-0.05},{"k":1,"w":4,"y":-0.1},{"k":1,"w":5,"y":-0.05},{"k":1,"w":6,"y":-0.08},{"k":1,"w":7,"y":-0.05},{"k":1,"w":8,"y":-0.02},{"k":1,"w":9,"y":0},{"k":1,"w":10,"y":0.01},{"k":1,"w":11,"y":0},{"k":1,"w":12,"y":-0.03},
{"k":2,"w":1,"y":0.12},{"k":2,"w":2,"y":0.13},{"k":2,"w":3,"y":0.02},{"k":2,"w":4,"y":0},{"k":2,"w":5,"y":0.03},{"k":2,"w":6,"y":-0.02},{"k":2,"w":7,"y":-0.03},{"k":2,"w":8,"y":-0.05},{"k":2,"w":9,"y":-0.04},{"k":2,"w":10,"y":-0.02},{"k":2,"w":11,"y":-0.03},{"k":2,"w":12,"y":-0.05},
{"k":3,"w":1,"y":0.05},{"k":3,"w":2,"y":0.02},{"k":3,"w":3,"y":-0.05},{"k":3,"w":4,"y":0.03},{"k":3,"w":5,"y":0},{"k":3,"w":6,"y":-0.05},{"k":3,"w":7,"y":-0.06},{"k":3,"w":8,"y":-0.04},{"k":3,"w":9,"y":-0.05},{"k":3,"w":10,"y":-0.06},{"k":3,"w":11,"y":-0.04},{"k":3,"w":12,"y":-0.06},
{"k":4,"w":1,"y":0},{"k":4,"w":2,"y":-0.03},{"k":4,"w":3,"y":-0.12},{"k":4,"w":4,"y":-0.08},{"k":4,"w":5,"y":-0.02},{"k":4,"w":6,"y":-0.07},{"k":4,"w":7,"y":-0.08},{"k":4,"w":8,"y":-0.08},{"k":4,"w":9,"y":-0.1},{"k":4,"w":10,"y":-0.09},{"k":4,"w":11,"y":-0.08},{"k":4,"w":12,"y":-0.1},
{"k":5,"w":1,"y":-0.05},{"k":5,"w":2,"y":0},{"k":5,"w":3,"y":-0.08},{"k":5,"w":4,"y":-0.18},{"k":5,"w":5,"y":-0.27},{"k":5,"w":6,"y":-0.1},{"k":5,"w":7,"y":-0.12},{"k":5,"w":8,"y":-0.13},{"k":5,"w":9,"y":-0.15},{"k":5,"w":10,"y":-0.1},{"k":5,"w":11,"y":-0.12},{"k":5,"w":12,"y":-0.14},
{"k":6,"w":1,"y":-0.1},{"k":6,"w":2,"y":-0.08},{"k":6,"w":3,"y":-0.05},{"k":6,"w":4,"y":-0.15},{"k":6,"w":5,"y":-0.2},{"k":6,"w":6,"y":-0.22},{"k":6,"w":7,"y":-0.15},{"k":6,"w":8,"y":-0.18},{"k":6,"w":9,"y":-0.2},{"k":6,"w":10,"y":-0.15},{"k":6,"w":11,"y":-0.18},{"k":6,"w":12,"y":-0.2},
{"k":7,"w":1,"y":-0.35},{"k":7,"w":2,"y":-0.05},{"k":7,"w":3,"y":-0.1},{"k":7,"w":4,"y":-0.02},{"k":7,"w":5,"y":0.02},{"k":7,"w":6,"y":-0.1},{"k":7,"w":7,"y":-0.25},{"k":7,"w":8,"y":-0.3},{"k":7,"w":9,"y":-0.32},{"k":7,"w":10,"y":-0.2},{"k":7,"w":11,"y":-0.25},{"k":7,"w":12,"y":-0.3},
{"k":8,"w":1,"y":0.08},{"k":8,"w":2,"y":0.05},{"k":8,"w":3,"y":0.02},{"k":8,"w":4,"y":-0.05},{"k":8,"w":5,"y":-0.08},{"k":8,"w":6,"y":-0.15},{"k":8,"w":7,"y":-0.28},{"k":8,"w":8,"y":-0.32},{"k":8,"w":9,"y":-0.47},{"k":8,"w":10,"y":-0.17},{"k":8,"w":11,"y":-0.07},{"k":8,"w":12,"y":-0.12},
{"k":9,"w":1,"y":-0.02},{"k":9,"w":2,"y":-0.1},{"k":9,"w":3,"y":-0.06},{"k":9,"w":4,"y":0},{"k":9,"w":5,"y":0.03},{"k":9,"w":6,"y":-0.03},{"k":9,"w":7,"y":-0.05},{"k":9,"w":8,"y":-0.1},{"k":9,"w":9,"y":-0.12},{"k":9,"w":10,"y":-0.22},{"k":9,"w":11,"y":-0.26},{"k":9,"w":12,"y":-0.5},
{"k":10,"w":1,"y":0.1},{"k":10,"w":2,"y":0.03},{"k":10,"w":3,"y":-0.02},{"k":10,"w":4,"y":-0.06},{"k":10,"w":5,"y":-0.04},{"k":10,"w":6,"y":-0.01},{"k":10,"w":7,"y":-0.03},{"k":10,"w":8,"y":-0.04},{"k":10,"w":9,"y":-0.02},{"k":10,"w":10,"y":0},{"k":10,"w":11,"y":-0.01},{"k":10,"w":12,"y":-0.03},
{"k":11,"w":1,"y":0.02},{"k":11,"w":2,"y":-0.04},{"k":11,"w":3,"y":-0.15},{"k":11,"w":4,"y":-0.12},{"k":11,"w":5,"y":-0.1},{"k":11,"w":6,"y":-0.06},{"k":11,"w":7,"y":-0.08},{"k":11,"w":8,"y":-0.06},{"k":11,"w":9,"y":-0.08},{"k":11,"w":10,"y":-0.12},{"k":11,"w":11,"y":-0.15},{"k":11,"w":12,"y":-0.08},
{"k":12,"w":1,"y":-0.08},{"k":12,"w":2,"y":-0.06},{"k":12,"w":3,"y":-0.1},{"k":12,"w":4,"y":-0.04},{"k":12,"w":5,"y":-0.06},{"k":12,"w":6,"y":-0.12},{"k":12,"w":7,"y":-0.1},{"k":12,"w":8,"y":-0.09},{"k":12,"w":9,"y":-0.06},{"k":12,"w":10,"y":-0.05},{"k":12,"w":11,"y":-0.1},{"k":12,"w":12,"y":-0.16}
]
},
"spacing":98,
"hconcat":[
{"title":{"text":"Precipitation","offset":5,"dx":40},"spacing":2,
"vconcat":[
{"width":1,"height":1,"view":{"stroke":null},"data":{"values":[]},"mark":"point","encoding":{}},
{"columns":2,"spacing":{"row":6,"column":23},"concat":[
{"width":185,"height":152,"title":{"text":"DJF","offset":17},"layer":[
{"data":{"name":"PDI"},"mark":{"type":"line","color":"#0000ff","opacity":0.35,"strokeWidth":1.8},"encoding":{"x":{"field":"w","type":"quantitative","scale":{"domain":[0.56,12.44],"nice":false,"zero":false},"axis":{"values":[1,4,8,12],"tickCount":20,"format":"d","labels":false,"title":null}},"y":{"field":"y","type":"quantitative","scale":{"domain":[-0.56,1.06],"nice":false,"zero":false},"axis":{"values":[-0.5,0,0.5,1],"tickCount":20,"format":".1f","labelOverlap":false,"labelExpr":"replace(datum.label,'\u2212','-')","title":"IQRSS"}},"detail":{"field":"k","type":"nominal"}}},
{"data":{"values":[{}]},"mark":{"type":"rule","color":"#000","strokeWidth":1.4},"encoding":{"y":{"datum":0}}}]},
{"width":185,"height":152,"title":{"text":"JJA","offset":17},"layer":[
{"data":{"name":"PJI"},"mark":{"type":"line","color":"#ff0000","opacity":0.35,"strokeWidth":1.8},"encoding":{"x":{"field":"w","type":"quantitative","scale":{"domain":[0.56,12.44],"nice":false,"zero":false},"axis":{"values":[1,4,8,12],"tickCount":20,"format":"d","labels":false,"title":null}},"y":{"field":"y","type":"quantitative","scale":{"domain":[-0.56,1.06],"nice":false,"zero":false},"axis":{"values":[-0.5,0,0.5,1],"tickCount":20,"labels":false,"title":null}},"detail":{"field":"k","type":"nominal"}}},
{"data":{"values":[{}]},"mark":{"type":"rule","color":"#000","strokeWidth":1.4},"encoding":{"y":{"datum":0}}}]},
{"width":185,"height":152,"layer":[
{"data":{"name":"PDC"},"mark":{"type":"line","color":"#0000ff","opacity":0.35,"strokeWidth":1.8},"encoding":{"x":{"field":"w","type":"quantitative","scale":{"domain":[0.56,12.44],"nice":false,"zero":false},"axis":{"values":[1,4,8,12],"tickCount":20,"format":"d","title":"Lead time (weeks)"}},"y":{"field":"y","type":"quantitative","scale":{"domain":[-0.436,0.536],"nice":false,"zero":false},"axis":{"values":[-0.4,-0.2,0,0.2,0.4],"tickCount":20,"format":".1f","labelOverlap":false,"labelExpr":"replace(datum.label,'\u2212','-')","title":"CRPSS"}},"detail":{"field":"k","type":"nominal"}}},
{"data":{"values":[{}]},"mark":{"type":"rule","color":"#000","strokeWidth":1.4},"encoding":{"y":{"datum":0}}}]},
{"width":185,"height":152,"layer":[
{"data":{"name":"PJC"},"mark":{"type":"line","color":"#ff0000","opacity":0.35,"strokeWidth":1.8},"encoding":{"x":{"field":"w","type":"quantitative","scale":{"domain":[0.56,12.44],"nice":false,"zero":false},"axis":{"values":[1,4,8,12],"tickCount":20,"format":"d","title":"Lead time (weeks)"}},"y":{"field":"y","type":"quantitative","scale":{"domain":[-0.436,0.536],"nice":false,"zero":false},"axis":{"values":[-0.4,-0.2,0,0.2,0.4],"tickCount":20,"labels":false,"title":null}},"detail":{"field":"k","type":"nominal"}}},
{"data":{"values":[{}]},"mark":{"type":"rule","color":"#000","strokeWidth":1.4},"encoding":{"y":{"datum":0}}}]}
]}
]},
{"title":{"text":"Streamflow","offset":5,"dx":35},"spacing":2,
"vconcat":[
{"width":1,"height":9,"view":{"stroke":null},"data":{"values":[]},"mark":"point","encoding":{}},
{"columns":2,"spacing":{"row":7,"column":23},"concat":[
{"width":184,"height":151,"title":{"text":"DJF","offset":16},"layer":[
{"data":{"name":"SDI"},"mark":{"type":"line","color":"#0000ff","opacity":0.35,"strokeWidth":1.8},"encoding":{"x":{"field":"w","type":"quantitative","scale":{"domain":[0.56,12.44],"nice":false,"zero":false},"axis":{"values":[1,4,8,12],"tickCount":20,"format":"d","labels":false,"title":null}},"y":{"field":"y","type":"quantitative","scale":{"domain":[-1.6,1.1],"nice":false,"zero":false},"axis":{"values":[-1.5,-1,-0.5,0,0.5,1],"tickCount":20,"format":".1f","labelOverlap":false,"labelExpr":"replace(datum.label,'\u2212','-')","title":"IQRSS"}},"detail":{"field":"k","type":"nominal"}}},
{"data":{"values":[{}]},"mark":{"type":"rule","color":"#000","strokeWidth":1.4},"encoding":{"y":{"datum":0}}}]},
{"width":184,"height":151,"title":{"text":"JJA","offset":16},"layer":[
{"data":{"name":"SJI"},"mark":{"type":"line","color":"#ff0000","opacity":0.35,"strokeWidth":1.8},"encoding":{"x":{"field":"w","type":"quantitative","scale":{"domain":[0.56,12.44],"nice":false,"zero":false},"axis":{"values":[1,4,8,12],"tickCount":20,"format":"d","labels":false,"title":null}},"y":{"field":"y","type":"quantitative","scale":{"domain":[-1.6,1.1],"nice":false,"zero":false},"axis":{"values":[-1.5,-1,-0.5,0,0.5,1],"tickCount":20,"labels":false,"title":null}},"detail":{"field":"k","type":"nominal"}}},
{"data":{"values":[{}]},"mark":{"type":"rule","color":"#000","strokeWidth":1.4},"encoding":{"y":{"datum":0}}}]},
{"width":184,"height":151,"layer":[
{"data":{"name":"SDC"},"mark":{"type":"line","color":"#0000ff","opacity":0.35,"strokeWidth":1.8},"encoding":{"x":{"field":"w","type":"quantitative","scale":{"domain":[0.56,12.44],"nice":false,"zero":false},"axis":{"values":[1,4,8,12],"tickCount":20,"format":"d","title":"Lead time (weeks)"}},"y":{"field":"y","type":"quantitative","scale":{"domain":[-0.848,0.448],"nice":false,"zero":false},"axis":{"values":[-0.8,-0.6,-0.4,-0.2,0,0.2,0.4],"tickCount":20,"format":".1f","labelOverlap":false,"labelExpr":"replace(datum.label,'\u2212','-')","title":"CRPSS"}},"detail":{"field":"k","type":"nominal"}}},
{"data":{"values":[{}]},"mark":{"type":"rule","color":"#000","strokeWidth":1.4},"encoding":{"y":{"datum":0}}}]},
{"width":184,"height":151,"layer":[
{"data":{"name":"SJC"},"mark":{"type":"line","color":"#ff0000","opacity":0.35,"strokeWidth":1.8},"encoding":{"x":{"field":"w","type":"quantitative","scale":{"domain":[0.56,12.44],"nice":false,"zero":false},"axis":{"values":[1,4,8,12],"tickCount":20,"format":"d","title":"Lead time (weeks)"}},"y":{"field":"y","type":"quantitative","scale":{"domain":[-0.848,0.448],"nice":false,"zero":false},"axis":{"values":[-0.8,-0.6,-0.4,-0.2,0,0.2,0.4],"tickCount":20,"labels":false,"title":null}},"detail":{"field":"k","type":"nominal"}}},
{"data":{"values":[{}]},"mark":{"type":"rule","color":"#000","strokeWidth":1.4},"encoding":{"y":{"datum":0}}}]}
]}
]}
]
}
